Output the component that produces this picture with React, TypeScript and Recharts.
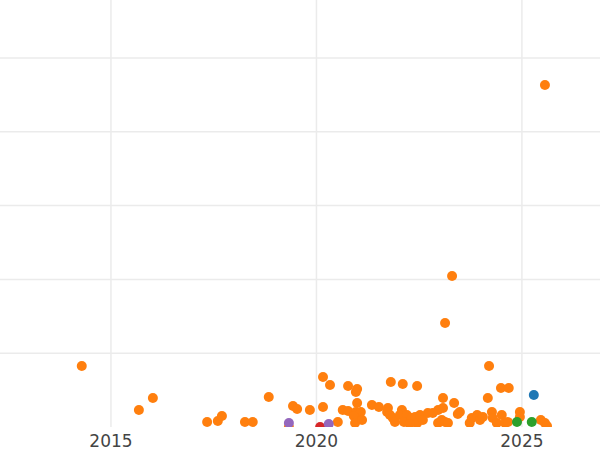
import { ScatterChart, Scatter, XAxis, YAxis, CartesianGrid } from 'recharts';

// [year, value] pairs
const bluePoints = [[2025.29, 4.34]];

const orangePoints = [
  [2014.29, 8.27], [2015.68, 2.3], [2016.02, 3.93], [2017.34, 0.68], [2017.6, 0.81],
  [2017.7, 1.49], [2018.26, 0.68], [2018.45, 0.68], [2018.84, 4.07], [2019.33, 0.0],
  [2019.43, 2.85], [2019.53, 2.44], [2019.84, 2.3], [2020.16, 6.78], [2020.16, 2.71],
  [2020.33, 5.69], [2020.52, 0.68], [2020.64, 2.3], [2020.77, 2.17], [2020.77, 5.56],
  [2020.96, 4.74], [2020.99, 5.15], [2020.99, 3.25], [2020.96, 2.03], [2020.99, 1.22],
  [2021.08, 2.03], [2020.91, 1.49], [2020.94, 0.54], [2021.11, 0.95], [2021.35, 2.98],
  [2021.52, 2.71], [2021.74, 2.57], [2021.81, 6.1], [2021.72, 2.03], [2021.79, 1.63],
  [2021.86, 1.22], [2021.91, 0.68], [2022.1, 5.83], [2022.08, 2.3], [2022.03, 1.63],
  [2022.2, 1.63], [2022.13, 0.68], [2022.32, 1.22], [2022.4, 1.36], [2022.45, 5.56],
  [2022.45, 0.54], [2022.52, 1.63], [2022.59, 0.95], [2022.27, 0.41], [2022.71, 1.9],
  [2022.96, 2.3], [2022.96, 0.54], [2022.83, 1.9], [2023.08, 3.93], [2023.08, 2.57],
  [2023.05, 0.95], [2023.13, 0.68], [2023.2, 0.54], [2023.13, 14.09], [2023.3, 20.46],
  [2023.35, 3.25], [2023.49, 2.03], [2023.44, 1.76], [2023.73, 0.54], [2023.78, 1.22],
  [2023.91, 1.63], [2023.98, 0.95], [2024.05, 1.36], [2024.17, 3.93], [2024.2, 8.27],
  [2024.27, 2.03], [2024.29, 1.22], [2024.39, 0.54], [2024.49, 5.28], [2024.68, 5.28],
  [2024.51, 1.63], [2024.59, 0.54], [2024.66, 0.68], [2024.95, 2.03], [2024.95, 1.36],
  [2025.46, 0.95], [2025.56, 0.54], [2025.56, 46.34], [2025.61, 0.14],
];

const greenPoints = [[2024.88, 0.68], [2025.24, 0.68]];
const redPoints = [[2020.09, 0.0]];
const purplePoints = [[2019.33, 0.54], [2020.3, 0.41]];

const xTicks = [2015, 2020, 2025];
const yTicks = [10, 20, 30, 40, 50];

const toRows = (pts: number[][]) => pts.map(([x, y]) => ({ x, y }));

const dot = (color: string) => (props: any) =>
  <circle cx={props.cx} cy={props.cy} r={5} fill={color} />;

const YearTick = ({ x, y, payload }: any) => (
  <text x={x} y={y} dy={12} textAnchor="middle" fill="#444" fontSize={17} fontFamily="DejaVu Sans">
    {payload.value}
  </text>
);

const NoTick = () => <g />;

export default function App() {
  return (
    <div style={{ position: 'absolute', left: 0, top: 0, width: 600, height: 450, background: '#fff' }}>
      <ScatterChart width={600} height={450} margin={{ top: 0, right: 0, left: 0, bottom: 0 }}>
        <CartesianGrid stroke="#ebebeb" strokeWidth={1.5} syncWithTicks />
        <XAxis
          type="number"
          dataKey="x"
          domain={[2012.3, 2026.9]}
          ticks={xTicks}
          axisLine={false}
          tickLine={false}
          height={23}
          tick={<YearTick />}
          allowDataOverflow
        />
        <YAxis
          type="number"
          dataKey="y"
          domain={[0, 57.86]}
          ticks={yTicks}
          width={0}
          tick={<NoTick />}
          axisLine={false}
          tickLine={false}
          allowDataOverflow
        />
        <Scatter data={toRows(bluePoints)} shape={dot('#1f77b4')} isAnimationActive={false} />
        <Scatter data={toRows(orangePoints)} shape={dot('#ff7f0e')} isAnimationActive={false} />
        <Scatter data={toRows(greenPoints)} shape={dot('#2ca02c')} isAnimationActive={false} />
        <Scatter data={toRows(redPoints)} shape={dot('#d62728')} isAnimationActive={false} />
        <Scatter data={toRows(purplePoints)} shape={dot('#9467bd')} isAnimationActive={false} />
      </ScatterChart>
    </div>
  );
}
